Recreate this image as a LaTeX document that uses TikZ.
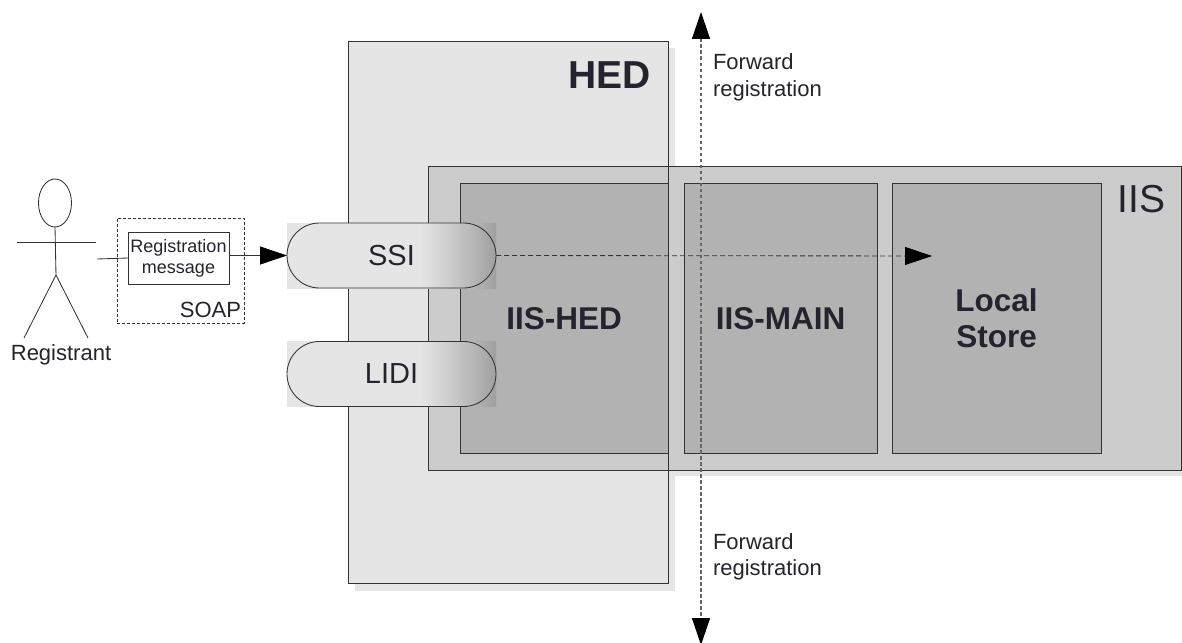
\documentclass[tikz,border=0pt]{standalone}
\usepackage{fontspec}
\setmainfont{Liberation Sans}
\usepackage{xcolor}
\usetikzlibrary{arrows.meta, shapes.geometric, shapes.misc, positioning}
\definecolor{hedgray}{HTML}{E5E5E5}
\definecolor{iisgray}{HTML}{CCCCCC}
\definecolor{modgray}{HTML}{B2B2B2}
\definecolor{inkdark}{HTML}{24242E}
\definecolor{edgegray}{HTML}{333333}
\pgfdeclarehorizontalshading{ifacegrad}{100bp}{color(0bp)=(hedgray); color(57bp)=(hedgray); color(64bp)=(iisgray); color(75bp)=(gray!75); color(100bp)=(gray!75)}
\newcommand{\sizedfont}[1]{\fontsize{#1}{#1}\selectfont}

\begin{document}
\begin{tikzpicture}[x=1pt, y=-1pt, line width=0.85pt,
    every node/.style={text=inkdark, inner sep=0pt, outer sep=0pt},
    box/.style={rectangle, draw=edgegray, anchor=north west, align=center},
    module/.style={box, fill=modgray, minimum width=#1, minimum height=270pt, font=\sizedfont{31.5}\bfseries, text depth=0pt},
    ifaceback/.style={rectangle, shading=ifacegrad, minimum width=209pt, minimum height=65pt},
    iface/.style={rounded rectangle, draw=edgegray, shading=ifacegrad, minimum width=209pt, minimum height=65pt, font=\sizedfont{29}},
    fwdnote/.style={anchor=west, align=left, font=\sizedfont{22}, text height=16pt, text depth=5pt},
    bigarrow/.style={-{Triangle[length=27pt, width=18pt, black]}},
    fwdline/.style={bigarrow, gray!80!black, dash pattern=on 3.5pt off 2.5pt, line width=1.4pt}
    ]

    \useasboundingbox (0,0) rectangle (1182,642);

    \fill[hedgray] (355,48) rectangle (675,591);
    \node[box, fill=hedgray, minimum width=320pt, minimum height=542pt] (HED) at (348,41) {};
    \fill[hedgray] (435,173) rectangle (1182,476);
    \node[box, fill=iisgray, minimum width=753pt, minimum height=304pt] (IIS) at (428,166) {};

    \node[module=208pt] (IH) at (460,183) {IIS-HED};
    \node[module=193pt, right=16pt of IH] (IM) {IIS-MAIN};
    \node[module=209pt, right=15pt of IM] (LS) {Local\\[5pt]Store};
    \draw[edgegray] (HED.north east) -- (HED.south east);

    \node[anchor=base east, font=\sizedfont{39}\bfseries] (HEDL) at (651,88) {HED};
    \node[anchor=base east, font=\sizedfont{39}] (IISL) at (1165,212) {IIS};

    \node[ifaceback] (SSIB) at (391.5,255.5) {};
    \node[iface] (SSI) at (SSIB) {SSI\hspace{4pt}};
    \node[ifaceback] (LIDIB) at (391.5,374) {};
    \node[iface] (LIDI) at (LIDIB) {LIDI\hspace{4pt}};

    \node[ellipse, draw=edgegray, minimum width=33pt, minimum height=48pt] (HD) at (55,203) {};
    \node[font=\sizedfont{22}, text height=16pt, text depth=5pt] (RE) at (61,355) {Registrant};
    \coordinate (armL) at (17,242);
    \coordinate (armR) at (96,242);
    \coordinate (hip) at (56,275);
    \coordinate (legL) at (24,338);
    \coordinate (legR) at (88,338);
    \coordinate (hand) at (97,259);

    \node[box, dash pattern=on 3pt off 2pt, minimum width=127pt, minimum height=105pt] (SOAP) at (117,218) {};
    \node[box, fill=white, minimum width=101pt, minimum height=52pt, font=\sizedfont{18}] (MSG) at (128,232) {Registration\\[3pt]message};
    \node[anchor=base east, font=\sizedfont{22}] (SOAPL) at (241,317) {SOAP};

    \coordinate (fwdT) at (701,12);
    \coordinate (fwdB) at (701,645);
    \coordinate (fwdM) at (701,330);
    \coordinate (fwdE) at (932,256);
    \node[fwdnote] (N1) at (713,64.5) {Forward};
    \node[fwdnote, below=5pt of N1.south west, anchor=north west] (N2) {registration};
    \node[fwdnote] (N3) at (713,543.5) {Forward};
    \node[fwdnote, below=5pt of N3.south west, anchor=north west] (N4) {registration};

    \path[draw=edgegray]
    (armL) edge (armR)
    (HD.south) edge (hip)
    (hip) edge (legL)
    (hip) edge (legR)
    (hand) edge (MSG.west)
    ;

    \draw[bigarrow, edgegray] (MSG.east |- SSI.west) -- (SSI.west);
    \draw[bigarrow, edgegray, dash pattern=on 5pt off 3pt] (SSI.east) -- (fwdE);
    \draw[fwdline] (fwdM) -- (fwdT);
    \draw[fwdline] (fwdM) -- (fwdB);

\end{tikzpicture}
\end{document}
